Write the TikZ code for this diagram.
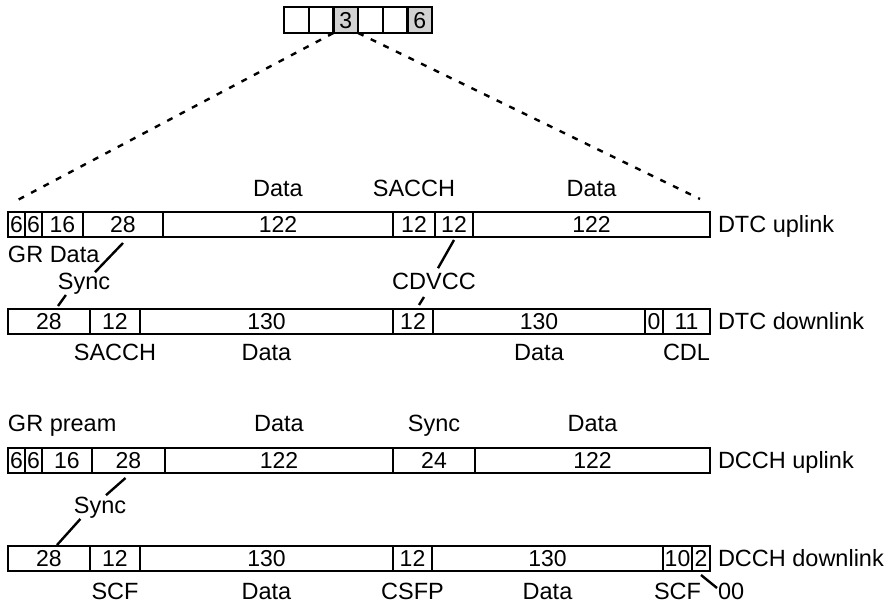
\documentclass[tikz,border=0pt]{standalone}
\usepackage{fontspec}
\setmainfont{Liberation Sans}
\usetikzlibrary{positioning}
\tikzstyle{cell} = [draw, line width=2.4pt, minimum height=25pt, inner sep=0pt, outer sep=0pt, text height=16.5pt, text depth=0pt, font=\fontsize{23}{27}\selectfont]
\tikzstyle{slot} = [cell, minimum width=24.7pt, minimum height=26pt]
\tikzstyle{busy} = [slot, fill=gray!35]
\tikzstyle{field} = [inner sep=0pt, outer sep=0pt, text height=16.8pt, text depth=0pt, font=\fontsize{23.5}{28}\selectfont]
\tikzstyle{pointer} = [line width=2.4pt]
\tikzstyle{zoomline} = [line width=2.4pt, dash pattern=on 6pt off 8pt]

\begin{document}
\begin{tikzpicture}[x=1pt, y=-1pt]
	\useasboundingbox (0,0) rectangle (892,609);
	% frame of six slots
	\node[slot, anchor=north west] (t1) at (284,7) {};
	\node[slot, right=0pt of t1] (t2) {};
	\node[busy, right=0pt of t2] (t3) {3};
	\node[slot, right=0pt of t3] (t4) {};
	\node[slot, right=0pt of t4] (t5) {};
	\node[busy, right=0pt of t5] (t6) {6};
	\coordinate (zl) at (12,203);
	\coordinate (zr) at (700,199);
	\draw[zoomline] (t3.south west) -- (zl);
	\draw[zoomline] (t3.south east) -- (zr);
	% DTC uplink
	\node[cell, minimum width=17pt, anchor=north west] (u1) at (8,212) {6};
	\node[cell, minimum width=17pt, right=0pt of u1] (u2) {6};
	\node[cell, minimum width=41pt, right=0pt of u2] (u3) {16};
	\node[cell, minimum width=80pt, right=0pt of u3] (u4) {28};
	\node[cell, minimum width=230pt, right=0pt of u4] (u5) {122};
	\node[cell, minimum width=42pt, right=0pt of u5] (u6) {12};
	\node[cell, minimum width=38pt, right=0pt of u6] (u7) {12};
	\node[cell, minimum width=237pt, right=0pt of u7] (u8) {122};
	\node[field, right=8pt of u8] {DTC uplink};
	\node[field, above=15pt of u5] {Data};
	\node[field, above=15pt of u6] {SACCH};
	\node[field, above=15pt of u8] {Data};
	\node[field, below right=9pt and 0pt of u1.south west] (grdata) {GR Data};
	\node[field, anchor=base] (syncu) at (84,290) {Sync};
	\node[field, anchor=base] (cdvcc) at (434,290) {CDVCC};
	% DTC downlink
	\node[cell, minimum width=82pt, anchor=north west] (d1) at (8,309) {28};
	\node[cell, minimum width=50pt, right=0pt of d1] (d2) {12};
	\node[cell, minimum width=253pt, right=0pt of d2] (d3) {130};
	\node[cell, minimum width=40pt, right=0pt of d3] (d4) {12};
	\node[cell, minimum width=212pt, right=0pt of d4] (d5) {130};
	\node[cell, minimum width=18pt, right=0pt of d5] (d6) {0};
	\node[cell, minimum width=47pt, right=0pt of d6] (d7) {11};
	\node[field, right=8pt of d7] {DTC downlink};
	\node[field, below=10pt of d2] {SACCH};
	\node[field, below=10pt of d3] {Data};
	\node[field, below=10pt of d5] {Data};
	\node[field, below=10pt of d7] {CDL};
	\draw[pointer] ([yshift=-6pt]u4.south) -- ([shift={(11pt,1pt)}]syncu.north);
	\draw[pointer] ([shift={(8pt,-5pt)}]syncu.south west) -- ([shift={(9pt,3pt)}]d1.north);
	\draw[pointer] ([yshift=-3pt]u7.south) -- ([shift={(4pt,5pt)}]cdvcc.north);
	\draw[pointer] ([shift={(-10pt,-7pt)}]cdvcc.south) -- ([shift={(6pt,4pt)}]d4.north);
	% DCCH uplink
	\node[cell, minimum width=17pt, anchor=north west] (c1) at (8,448) {6};
	\node[cell, minimum width=17pt, right=0pt of c1] (c2) {6};
	\node[cell, minimum width=50pt, right=0pt of c2] (c3) {16};
	\node[cell, minimum width=73pt, right=0pt of c3] (c4) {28};
	\node[cell, minimum width=228pt, right=0pt of c4] (c5) {122};
	\node[cell, minimum width=82pt, right=0pt of c5] (c6) {24};
	\node[cell, minimum width=235pt, right=0pt of c6] (c7) {122};
	\node[field, right=8pt of c7] {DCCH uplink};
	\node[field, above right=16pt and 0pt of c1.north west] {GR pream};
	\node[field, above=16pt of c5] {Data};
	\node[field, above=16pt of c6] {Sync};
	\node[field, above=16pt of c7] {Data};
	\node[field, anchor=base] (syncc) at (100,514) {Sync};
	% DCCH downlink
	\node[cell, minimum width=82pt, anchor=north west] (e1) at (8,546) {28};
	\node[cell, minimum width=50pt, right=0pt of e1] (e2) {12};
	\node[cell, minimum width=253pt, right=0pt of e2] (e3) {130};
	\node[cell, minimum width=39pt, right=0pt of e3] (e4) {12};
	\node[cell, minimum width=231pt, right=0pt of e4] (e5) {130};
	\node[cell, minimum width=29pt, right=0pt of e5] (e6) {10};
	\node[cell, minimum width=18pt, right=0pt of e6] (e7) {2};
	\node[field, right=8pt of e7] {DCCH downlink};
	\node[field, below=12pt of e2] {SCF};
	\node[field, below=12pt of e3] {Data};
	\node[field, below=12pt of e4] {CSFP};
	\node[field, below=12pt of e5] {Data};
	\node[field, below=12pt of e6] {SCF};
	\node[field, below right=12pt and 8pt of e7.south east] (zz) {00};
	\draw[pointer] ([shift={(-3pt,-5pt)}]c4.south) -- ([shift={(6pt,2pt)}]syncc.north);
	\draw[pointer] ([shift={(6.5pt,-5pt)}]syncc.south west) -- ([shift={(8pt,1pt)}]e1.north);
	\draw[pointer] ([yshift=-4pt]e7.south) -- ([shift={(-1pt,-5pt)}]zz.north west);
\end{tikzpicture}
\end{document}
